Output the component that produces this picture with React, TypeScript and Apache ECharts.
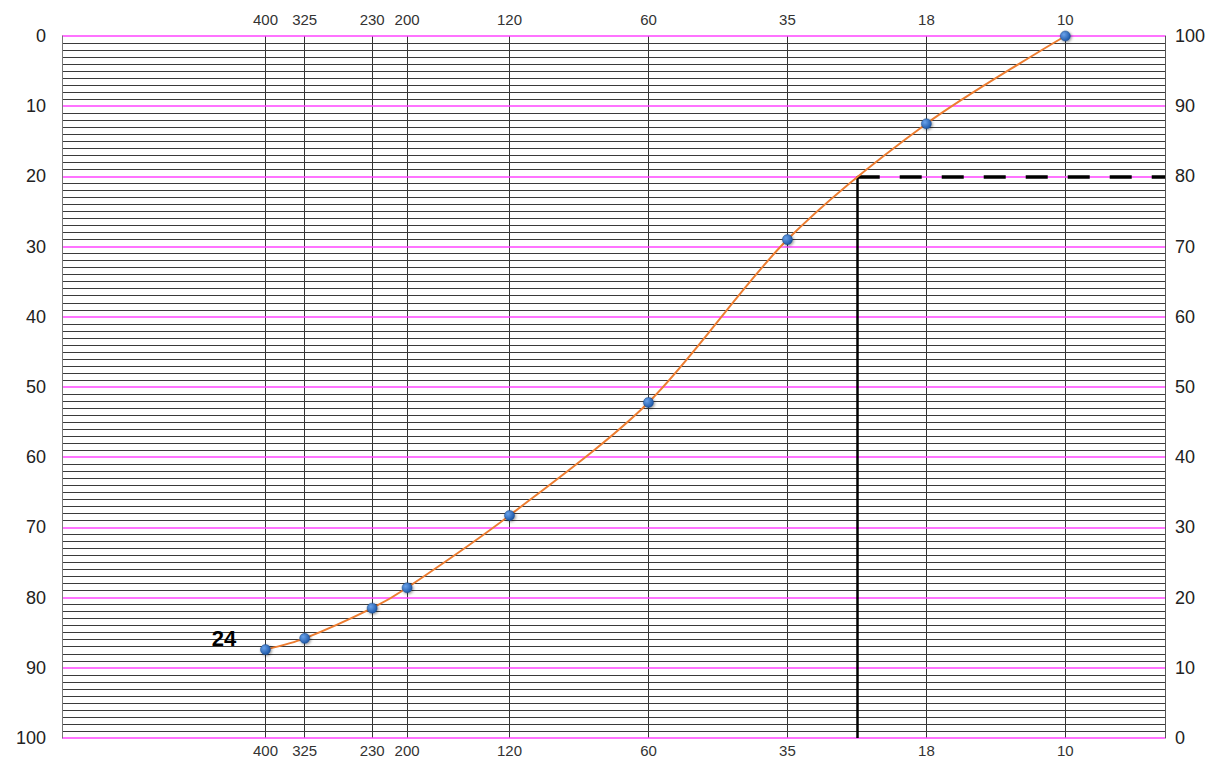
import React, { useEffect, useRef } from "react";
import * as echarts from "echarts";

// Sieve mesh labels and their openings (µm)
const meshLabels = ["400", "325", "230", "200", "120", "60", "35", "18", "10"];
const openingsMicron = [37, 45, 63, 75, 125, 250, 500, 1000, 2000];
// Cumulative retained % (left axis, 0 at top)
const retainedPct = [87.4, 85.8, 81.5, 78.6, 68.3, 52.2, 29.0, 12.5, 0];
// Left axis ticks (retained) and right axis ticks (passing)
const leftTicks = [0, 10, 20, 30, 40, 50, 60, 70, 80, 90, 100];
// Annotation: 25 mesh (710 µm) cut at 20 % retained / 80 % passing
const cutOpening = 710;
const cutRetained = 20;
const labelText = "24";
const xMin = 13.41;
const xMax = 3288;

export default function App() {
  const ref = useRef<HTMLDivElement>(null);
  useEffect(() => {
    if (!ref.current) return;
    const chart = echarts.init(ref.current, undefined, { renderer: "svg" });
    const font = "'Liberation Sans', Arial, sans-serif";
    const labelMap: Record<number, string> = {};
    openingsMicron.forEach((v, i) => (labelMap[v] = meshLabels[i]));
    const xLabel = {
      customValues: openingsMicron,
      formatter: (v: number) => labelMap[Math.round(v)] ?? "",
      fontSize: 15,
      color: "#333",
      fontFamily: font,
    };
    const option: any = {
      animation: false,
      backgroundColor: "#fff",
      grid: { left: 62, right: 58, top: 36, bottom: 24, containLabel: false },
      xAxis: [
        {
          type: "log",
          logBase: 10,
          min: xMin,
          max: xMax,
          position: "bottom",
          axisLine: { show: false },
          axisTick: { show: false, customValues: openingsMicron },
          axisLabel: { ...xLabel, margin: 5 },
          splitLine: { show: true, lineStyle: { color: "#333", width: 1 } },
          minorSplitLine: { show: false },
        },
        {
          type: "log",
          logBase: 10,
          min: xMin,
          max: xMax,
          position: "top",
          axisLine: { show: false },
          axisTick: { show: false, customValues: openingsMicron },
          axisLabel: { ...xLabel, margin: 9 },
          splitLine: { show: false },
        },
      ],
      yAxis: [
        {
          type: "value",
          inverse: true,
          min: 0,
          max: 100,
          interval: 10,
          position: "left",
          axisLine: { show: true, lineStyle: { color: "#777", width: 1 } },
          axisTick: { show: false },
          axisLabel: {
            fontSize: 18,
            color: "#222",
            fontFamily: font,
            margin: 16,
            formatter: (v: number) => (leftTicks.includes(v) ? String(v) : ""),
          },
          splitLine: { show: true, lineStyle: { color: "#ff44ff", width: 1.5 } },
          minorTick: { show: false, splitNumber: 10 },
          minorSplitLine: { show: true, lineStyle: { color: "#3a3a3a", width: 1 } },
          z: 1,
        },
        {
          type: "value",
          min: 0,
          max: 100,
          interval: 10,
          position: "right",
          axisLine: { show: true, lineStyle: { color: "#555", width: 1 } },
          axisTick: { show: false },
          axisLabel: { fontSize: 18, color: "#222", fontFamily: font, margin: 10 },
          splitLine: { show: false },
        },
      ],
      series: [
        {
          type: "line",
          xAxisIndex: 0,
          yAxisIndex: 0,
          smooth: 0.3,
          data: openingsMicron.map((x, i) => ({
            value: [x, retainedPct[i]],
            label:
              i === 0
                ? {
                    show: true,
                    formatter: labelText,
                    position: "left",
                    distance: 24,
                    offset: [0, -11],
                    fontSize: 22,
                    fontWeight: "bold",
                    color: "#000",
                    fontFamily: font,
                  }
                : undefined,
          })),
          lineStyle: { color: "#ed7d31", width: 2 },
          symbol: "circle",
          symbolSize: 10,
          itemStyle: {
            color: new echarts.graphic.RadialGradient(0.35, 0.35, 0.7, [
              { offset: 0, color: "#6aa2ea" },
              { offset: 1, color: "#1a55a6" },
            ]),
            borderColor: "#1d4a86",
            borderWidth: 0.5,
            shadowColor: "rgba(0,0,0,0.45)",
            shadowBlur: 3,
            shadowOffsetX: 1,
            shadowOffsetY: 1,
          },
          z: 5,
          markLine: {
            silent: true,
            symbol: "none",
            label: { show: false },
            data: [
              [
                { coord: [cutOpening, cutRetained], lineStyle: { color: "#000", width: 2.5, type: "solid" } },
                { coord: [cutOpening, 100] },
              ],
              [
                { coord: [cutOpening, cutRetained], lineStyle: { color: "#000", width: 3.5, type: [22, 20] } },
                { coord: [xMax, cutRetained] },
              ],
            ],
          },
        },
      ],
    };
    chart.setOption(option);
    return () => chart.dispose();
  }, []);
  return (
    <div
      ref={ref}
      style={{ position: "fixed", left: 0, top: 0, width: 1223, height: 762, background: "#fff" }}
    />
  );
}
